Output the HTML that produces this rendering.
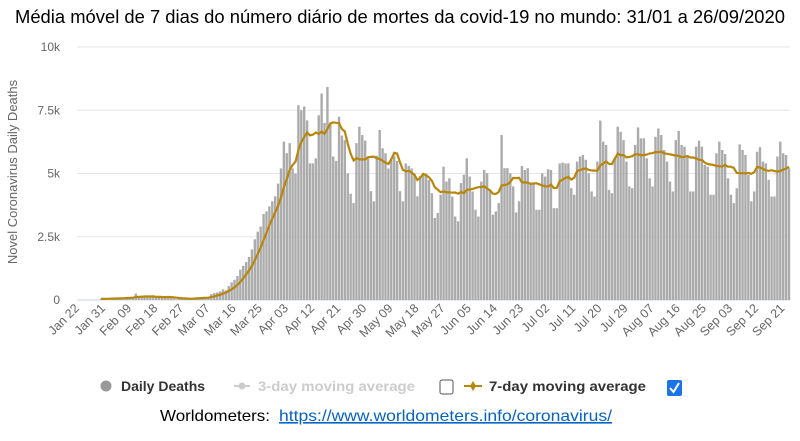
<!DOCTYPE html>
<html><head><meta charset="utf-8"><style>
body{margin:0;background:#fff;width:800px;height:436px;overflow:hidden;font-family:"Liberation Sans",sans-serif;}
</style></head><body>
<svg width="800" height="436" viewBox="0 0 800 436">
<text x="15" y="23" font-size="18" textLength="770" lengthAdjust="spacingAndGlyphs" fill="#000">Média móvel de 7 dias do número diário de mortes da covid-19 no mundo: 31/01 a 26/09/2020</text>
<g id="grid"></g><g id="yt"></g><g id="bars"></g><g id="line"></g><g id="xt"></g>
<text transform="translate(17,172) rotate(-90)" text-anchor="middle" font-size="13" fill="#666">Novel Coronavirus Daily Deaths</text>
<g>
<g><circle cx="106" cy="386" r="5.5" fill="#999"/><text x="121" y="391" font-size="14" font-weight="bold" fill="#333">Daily Deaths</text></g>
<g><line x1="234" y1="386" x2="250" y2="386" stroke="#ccc" stroke-width="2"/><circle cx="242" cy="386" r="3.5" fill="#ccc"/><text x="258" y="391" font-size="14" font-weight="bold" fill="#ccc" textLength="157" lengthAdjust="spacingAndGlyphs">3-day moving average</text></g>
<rect x="440" y="380" width="13" height="14" rx="2" fill="#fff" stroke="#555"/>
<g><line x1="464" y1="386" x2="482" y2="386" stroke="#b8860b" stroke-width="2"/><path d="M473 381 L476 386 L473 391 L470 386Z" fill="#b8860b"/><text x="489" y="391" font-size="14" font-weight="bold" fill="#333" textLength="157" lengthAdjust="spacingAndGlyphs">7-day moving average</text></g>
<g><rect x="667" y="380" width="15" height="16" rx="2" fill="#1a73e8"/><path d="M670 388 L673.5 392 L679 383" stroke="#fff" stroke-width="2" fill="none"/></g>
</g>
<text x="160" y="421" font-size="16" textLength="110" lengthAdjust="spacingAndGlyphs" fill="#000">Worldometers:</text>
<text x="279" y="421" font-size="16" textLength="333" lengthAdjust="spacingAndGlyphs" fill="#0563c1" text-decoration="underline">https://www.worldometers.info/coronavirus/</text>
</svg>
<script>
const yTicks=[0,2500,5000,7500,10000];
const yTickLabels=["0","2.5k","5k","7.5k","10k"];
const xTickLabels=["Jan 22","Jan 31","Feb 09","Feb 18","Feb 27","Mar 07","Mar 16","Mar 25","Apr 03","Apr 12","Apr 21","Apr 30","May 09","May 18","May 27","Jun 05","Jun 14","Jun 23","Jul 02","Jul 11","Jul 20","Jul 29","Aug 07","Aug 16","Aug 25","Sep 03","Sep 12","Sep 21"];
const dailyDeaths=[46,45,57,64,66,73,73,86,89,97,
108,97,254,121,143,142,106,98,139,115,
125,109,97,150,71,52,29,44,37,58,
67,71,77,84,100,102,103,104,233,275,
300,340,420,380,550,700,800,950,1200,1350,
1500,1700,2000,2400,2700,2900,3400,3500,3700,3900,
4100,4600,5200,6260,5800,6200,5200,5000,7700,7500,
7650,7100,5400,5400,5600,7300,8160,7000,8420,6980,
5670,5500,7240,6500,6320,5000,4200,3830,6200,6850,
6520,6300,5600,4300,3900,5700,6720,6000,5800,5200,
5600,5700,5500,4300,3900,5400,5300,5200,5000,4100,4900,
5000,5000,4750,4220,3240,3440,4160,5270,4680,4810,
4090,3300,3110,4620,4950,5600,4880,4290,3570,3300,
4680,5140,5010,4350,3370,3500,3830,6520,5210,5210,
5010,4490,3460,3900,5300,5140,5210,4620,4590,3570,
3570,5010,4880,5170,5140,3630,3630,5400,5430,5400,
5400,4420,4160,5470,5670,5730,5540,5010,4290,4090,
5470,7090,6260,6130,4350,4220,5600,6850,6650,6320,
5470,4490,4420,6130,6820,6390,6390,5600,4810,4490,
6450,6780,6520,5930,5470,4680,4290,6320,6680,6130,
6060,5670,4290,4290,6060,6300,6060,5340,5270,4160,
4160,5800,6260,5930,5770,4810,4160,3830,4420,6150,
5930,5730,4950,3900,4290,5860,6040,5470,5400,4750,
4090,4090,5670,6260,5800,5730,5210];
const NS="http://www.w3.org/2000/svg";
const n=dailyDeaths.length;
const x0=101,x1=789,step=(x1-x0)/(n-1);
function xScale(i){return x0+i*step;}
function yScale(v){return 300-v/10000*253;}
function mk(tag,attrs,parent){const e=document.createElementNS(NS,tag);for(const k in attrs)e.setAttribute(k,attrs[k]);parent.appendChild(e);return e;}
const grid=document.getElementById('grid'),yt=document.getElementById('yt');
yTicks.forEach((t,k)=>{
 const l=mk('line',{x1:77,x2:790,y1:yScale(t),y2:yScale(t),stroke:t===0?'#ccd6eb':'#e6e6e6','stroke-width':1},grid);
 
 
 const tx=mk('text',{x:60,y:yScale(t)+4,'text-anchor':'end','font-size':12,fill:'#666'},yt);
 tx.textContent=yTickLabels[k];
 
 
});
const bars=document.getElementById('bars');
dailyDeaths.forEach((v,i)=>{
 const r=mk('rect',{x:xScale(i)-1.2,y:yScale(v),width:2.4,height:300-yScale(v),fill:'#ababab'},bars);
 
 
});
const ma=dailyDeaths.map((v,i)=>{const s=dailyDeaths.slice(Math.max(0,i-6),i+1);return s.reduce((a,b)=>a+b,0)/s.length;});
const p=mk('path',{d:ma.map((v,i)=>(i?'L':'M')+xScale(i).toFixed(1)+' '+yScale(v).toFixed(1)).join(' '),fill:'none',stroke:'#b8860b','stroke-width':2.2},document.getElementById('line'));


const xt=document.getElementById('xt');
xTickLabels.forEach((lab,k)=>{
 const x=xScale(k*9-9)+5;
 const t=mk('text',{x:x,y:309,'text-anchor':'end','font-size':12.5,fill:'#666',transform:`rotate(-45 ${x} 309)`},xt);
 t.textContent=lab;
 
 
});
</script>
</body></html>
